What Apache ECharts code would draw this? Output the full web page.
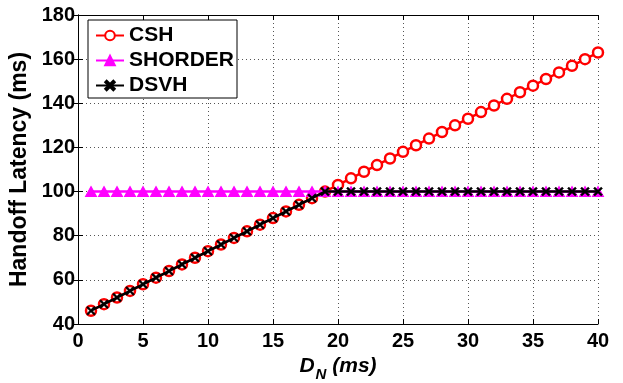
<!DOCTYPE html>
<html><head><meta charset="utf-8">
<script src="https://cdn.jsdelivr.net/npm/echarts@6/dist/echarts.min.js"></script>
<style>html,body{margin:0;padding:0;background:#fff}#c{width:623px;height:383px}</style>
</head><body><div id="c"></div>
<script>
var xValues = [1,2,3,4,5,6,7,8,9,10,11,12,13,14,15,16,17,18,19,20,21,22,23,24,25,26,27,28,29,30,31,32,33,34,35,36,37,38,39,40];
var cshValues = [46,49,52,55,58,61,64,67,70,73,76,79,82,85,88,91,94,97,100,103,106,109,112,115,118,121,124,127,130,133,136,139,142,145,148,151,154,157,160,163];
var shorderValues = [100,100,100,100,100,100,100,100,100,100,100,100,100,100,100,100,100,100,100,100,100,100,100,100,100,100,100,100,100,100,100,100,100,100,100,100,100,100,100,100];
var dsvhValues = [46,49,52,55,58,61,64,67,70,73,76,79,82,85,88,91,94,97,100,100,100,100,100,100,100,100,100,100,100,100,100,100,100,100,100,100,100,100,100,100];
var xTicks = [0,5,10,15,20,25,30,35,40];
var yTicks = [40,60,80,100,120,140,160,180];

function pairs(v){ return xValues.map(function(x,i){ return [x, v[i]]; }); }
var FONT = 'Liberation Sans, Arial, sans-serif';
var xMark = 'path://M1.5,0L5,3.5L8.5,0L10,1.5L6.5,5L10,8.5L8.5,10L5,6.5L1.5,10L0,8.5L3.5,5L0,1.5Z';

var chart = echarts.init(document.getElementById('c'));
var tickStyle = {show:true, inside:true, length:5, lineStyle:{color:'#000', width:1}};
var gridLine = {show:true, lineStyle:{color:'#555', type:[1,3], width:1}};
chart.setOption({
  animation:false,
  grid:{left:78, right:25, top:15, bottom:59, containLabel:false, outerBoundsMode:'none'},
  legend:{
    left:88, top:20, orient:'vertical', itemGap:4, itemWidth:28, itemHeight:12,
    padding:[5,3,2,7],
    borderColor:'#000', borderWidth:1, backgroundColor:'#fff',
    textStyle:{fontFamily:FONT, fontWeight:'bold', fontSize:21, lineHeight:21, color:'#000'},
    data:['CSH','SHORDER','DSVH']
  },
  xAxis:[{
    type:'value', min:0, max:40, interval:5,
    axisLine:{show:true, lineStyle:{color:'#000', width:1}},
    axisTick:tickStyle, splitLine:gridLine,
    axisLabel:{color:'#000', fontFamily:FONT, fontWeight:'bold', fontSize:20, margin:7,
      formatter:function(v){ return xTicks.indexOf(v)>=0 ? String(v) : ''; }},
    name:'{a|D}{b|N}{c| (ms)}', nameLocation:'middle', nameGap:22,
    nameTextStyle:{rich:{
      a:{fontFamily:FONT, fontWeight:'bold', fontStyle:'italic', fontSize:21, color:'#000'},
      b:{fontFamily:FONT, fontWeight:'bold', fontStyle:'italic', fontSize:15, color:'#000', padding:[16,0,0,1]},
      c:{fontFamily:FONT, fontWeight:'bold', fontStyle:'italic', fontSize:21, color:'#000'}
    }}
  },{
    type:'value', min:0, max:40, interval:5, position:'top',
    axisLine:{show:true, lineStyle:{color:'#000', width:1}},
    axisTick:tickStyle, axisLabel:{show:false}, splitLine:{show:false}
  }],
  yAxis:[{
    type:'value', min:40, max:180, interval:20,
    axisLine:{show:true, lineStyle:{color:'#000', width:1}},
    axisTick:tickStyle, splitLine:gridLine,
    axisLabel:{color:'#000', fontFamily:FONT, fontWeight:'bold', fontSize:20, margin:3,
      formatter:function(v){ return yTicks.indexOf(v)>=0 ? String(v) : ''; }},
    name:'Handoff Latency (ms)', nameLocation:'middle', nameGap:46,
    nameTextStyle:{fontFamily:FONT, fontWeight:'bold', fontSize:23, color:'#000'}
  },{
    type:'value', min:40, max:180, interval:20, position:'right',
    axisLine:{show:true, lineStyle:{color:'#000', width:1}},
    axisTick:tickStyle, axisLabel:{show:false}, splitLine:{show:false}
  }],
  series:[{
    name:'CSH', type:'line', data:pairs(cshValues),
    symbol:'circle', symbolSize:10, showAllSymbol:true,
    lineStyle:{color:'#ff0000', width:2.5},
    itemStyle:{color:'#fff', borderColor:'#ff0000', borderWidth:2.5},
    z:2
  },{
    name:'SHORDER', type:'line', data:pairs(shorderValues),
    symbol:'triangle', symbolSize:[11,10], showAllSymbol:true,
    lineStyle:{color:'#ff00ff', width:2.5},
    itemStyle:{color:'#ff00ff', borderColor:'#ff00ff', borderWidth:1},
    z:3
  },{
    name:'DSVH', type:'line', data:pairs(dsvhValues),
    symbol:xMark, symbolSize:9, showAllSymbol:true,
    lineStyle:{color:'#000', width:2.5},
    itemStyle:{color:'#000', borderColor:'#000', borderWidth:0.5},
    z:4
  }]
});
</script></body></html>
